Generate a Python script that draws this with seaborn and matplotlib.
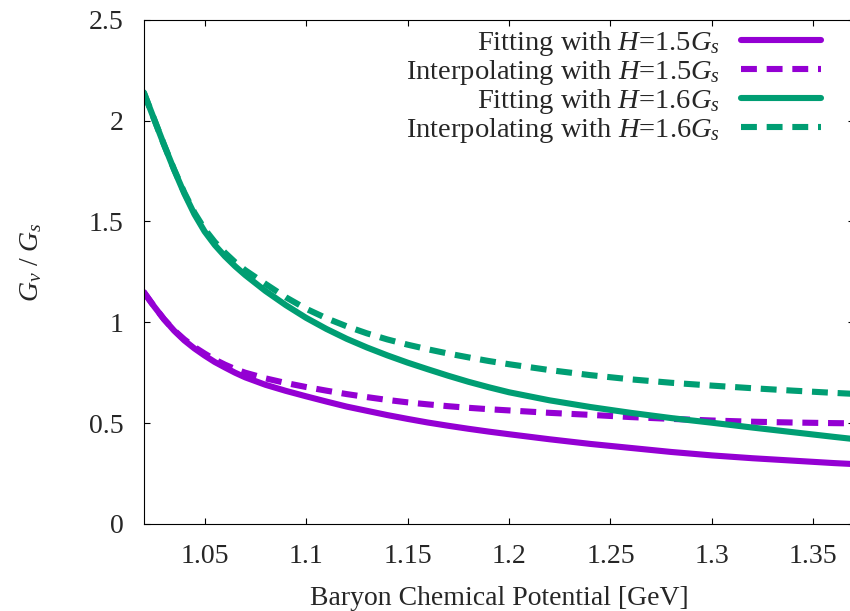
import numpy as np
import pandas as pd
import matplotlib
matplotlib.use("Agg")
import matplotlib.pyplot as plt
import seaborn as sns

# Baryon chemical potential grid [GeV]
mu_b = [1.02, 1.025, 1.03, 1.035, 1.04, 1.045, 1.05, 1.055, 1.06, 1.065,
        1.07, 1.08, 1.09, 1.10, 1.11, 1.12, 1.13, 1.14, 1.15, 1.16, 1.17,
        1.18, 1.19, 1.20, 1.22, 1.24, 1.26, 1.28, 1.30, 1.32, 1.34, 1.36,
        1.37]

# G_v / G_s ratios
fit_h15 = [1.15, 1.08, 1.015, 0.958, 0.91, 0.87, 0.835, 0.803, 0.776, 0.75,
           0.727, 0.69, 0.66, 0.633, 0.607, 0.582, 0.561, 0.54, 0.521, 0.503,
           0.487, 0.472, 0.458, 0.445, 0.42, 0.397, 0.377, 0.357, 0.34,
           0.326, 0.314, 0.302, 0.297]
interp_h15 = [1.15, 1.08, 1.015, 0.96, 0.915, 0.877, 0.845, 0.815, 0.79,
              0.768, 0.75, 0.722, 0.699, 0.679, 0.661, 0.644, 0.629, 0.615,
              0.603, 0.593, 0.584, 0.576, 0.569, 0.563, 0.551, 0.541, 0.530,
              0.521, 0.513, 0.507, 0.503, 0.5, 0.499]
fit_h16 = [2.14, 2.01, 1.88, 1.755, 1.638, 1.535, 1.45, 1.383, 1.327, 1.278,
           1.234, 1.155, 1.085, 1.022, 0.967, 0.918, 0.875, 0.836, 0.80,
           0.767, 0.735, 0.705, 0.678, 0.653, 0.613, 0.58, 0.551, 0.525,
           0.502, 0.478, 0.455, 0.432, 0.421]
interp_h16 = [2.14, 2.01, 1.88, 1.757, 1.643, 1.543, 1.462, 1.398, 1.345,
              1.298, 1.258, 1.19, 1.124, 1.067, 1.02, 0.98, 0.945, 0.915,
              0.889, 0.866, 0.845, 0.826, 0.808, 0.792, 0.763, 0.738, 0.717,
              0.70, 0.686, 0.673, 0.661, 0.65, 0.645]

labels = [r"Fitting with $H$=1.5$G_s$",
          r"Interpolating with $H$=1.5$G_s$",
          r"Fitting with $H$=1.6$G_s$",
          r"Interpolating with $H$=1.6$G_s$"]

sns.set_style("ticks")
plt.rcParams.update({
    "font.family": ["Liberation Serif", "DejaVu Serif"],
    "mathtext.fontset": "custom",
    "mathtext.rm": "Liberation Serif",
    "mathtext.it": "Liberation Serif:italic",
    "mathtext.bf": "Liberation Serif:bold",
    "font.size": 20,
})

purple = "#9400D3"
green = "#009E73"
dash = (0, (2.6, 1.6))

fig = plt.figure(figsize=(8.5, 6.11), dpi=100)
ax = fig.add_axes([0.1691, 0.1424, 0.8356, 0.8254])

series = [
    (fit_h15, purple, "-"),
    (interp_h15, purple, dash),
    (fit_h16, green, "-"),
    (interp_h16, green, dash),
]
for (vals, col, ls), lab in zip(series, labels):
    df = pd.DataFrame({"mu": mu_b, "ratio": vals})
    sns.lineplot(data=df, x="mu", y="ratio", ax=ax, color=col, linestyle=ls,
                 linewidth=4.4, label=lab)

ax.set_xlim(1.02, 1.37)
ax.set_ylim(0, 2.5)
ax.set_xticks([1.05, 1.1, 1.15, 1.2, 1.25, 1.3, 1.35])
ax.set_xticklabels(["1.05", "1.1", "1.15", "1.2", "1.25", "1.3", "1.35"])
ax.set_yticks([0, 0.5, 1, 1.5, 2, 2.5])
ax.set_yticklabels(["0", "0.5", "1", "1.5", "2", "2.5"])

ax.tick_params(direction="in", length=4.3, width=0.8, top=True, right=True,
               labelsize=20, pad=14.5, color="black")
for sp in ax.spines.values():
    sp.set_visible(True)
    sp.set_linewidth(0.8)
    sp.set_color("black")

ax.set_xlabel("Baryon Chemical Potential [GeV]", fontsize=20)
ax.set_ylabel(r"$G_\nu$ / $G_s$", fontsize=20)
ax.xaxis.set_label_coords(0.5, -0.122)
ax.yaxis.set_label_coords(-0.14, 0.52)

leg = ax.legend(loc="upper right", bbox_to_anchor=(0.9535, 0.982),
                frameon=False, markerfirst=False, handlelength=2.8,
                handletextpad=0.75, labelspacing=0.0, borderpad=0,
                borderaxespad=0, fontsize=20.5)

fig.savefig("out.png", dpi=100)
